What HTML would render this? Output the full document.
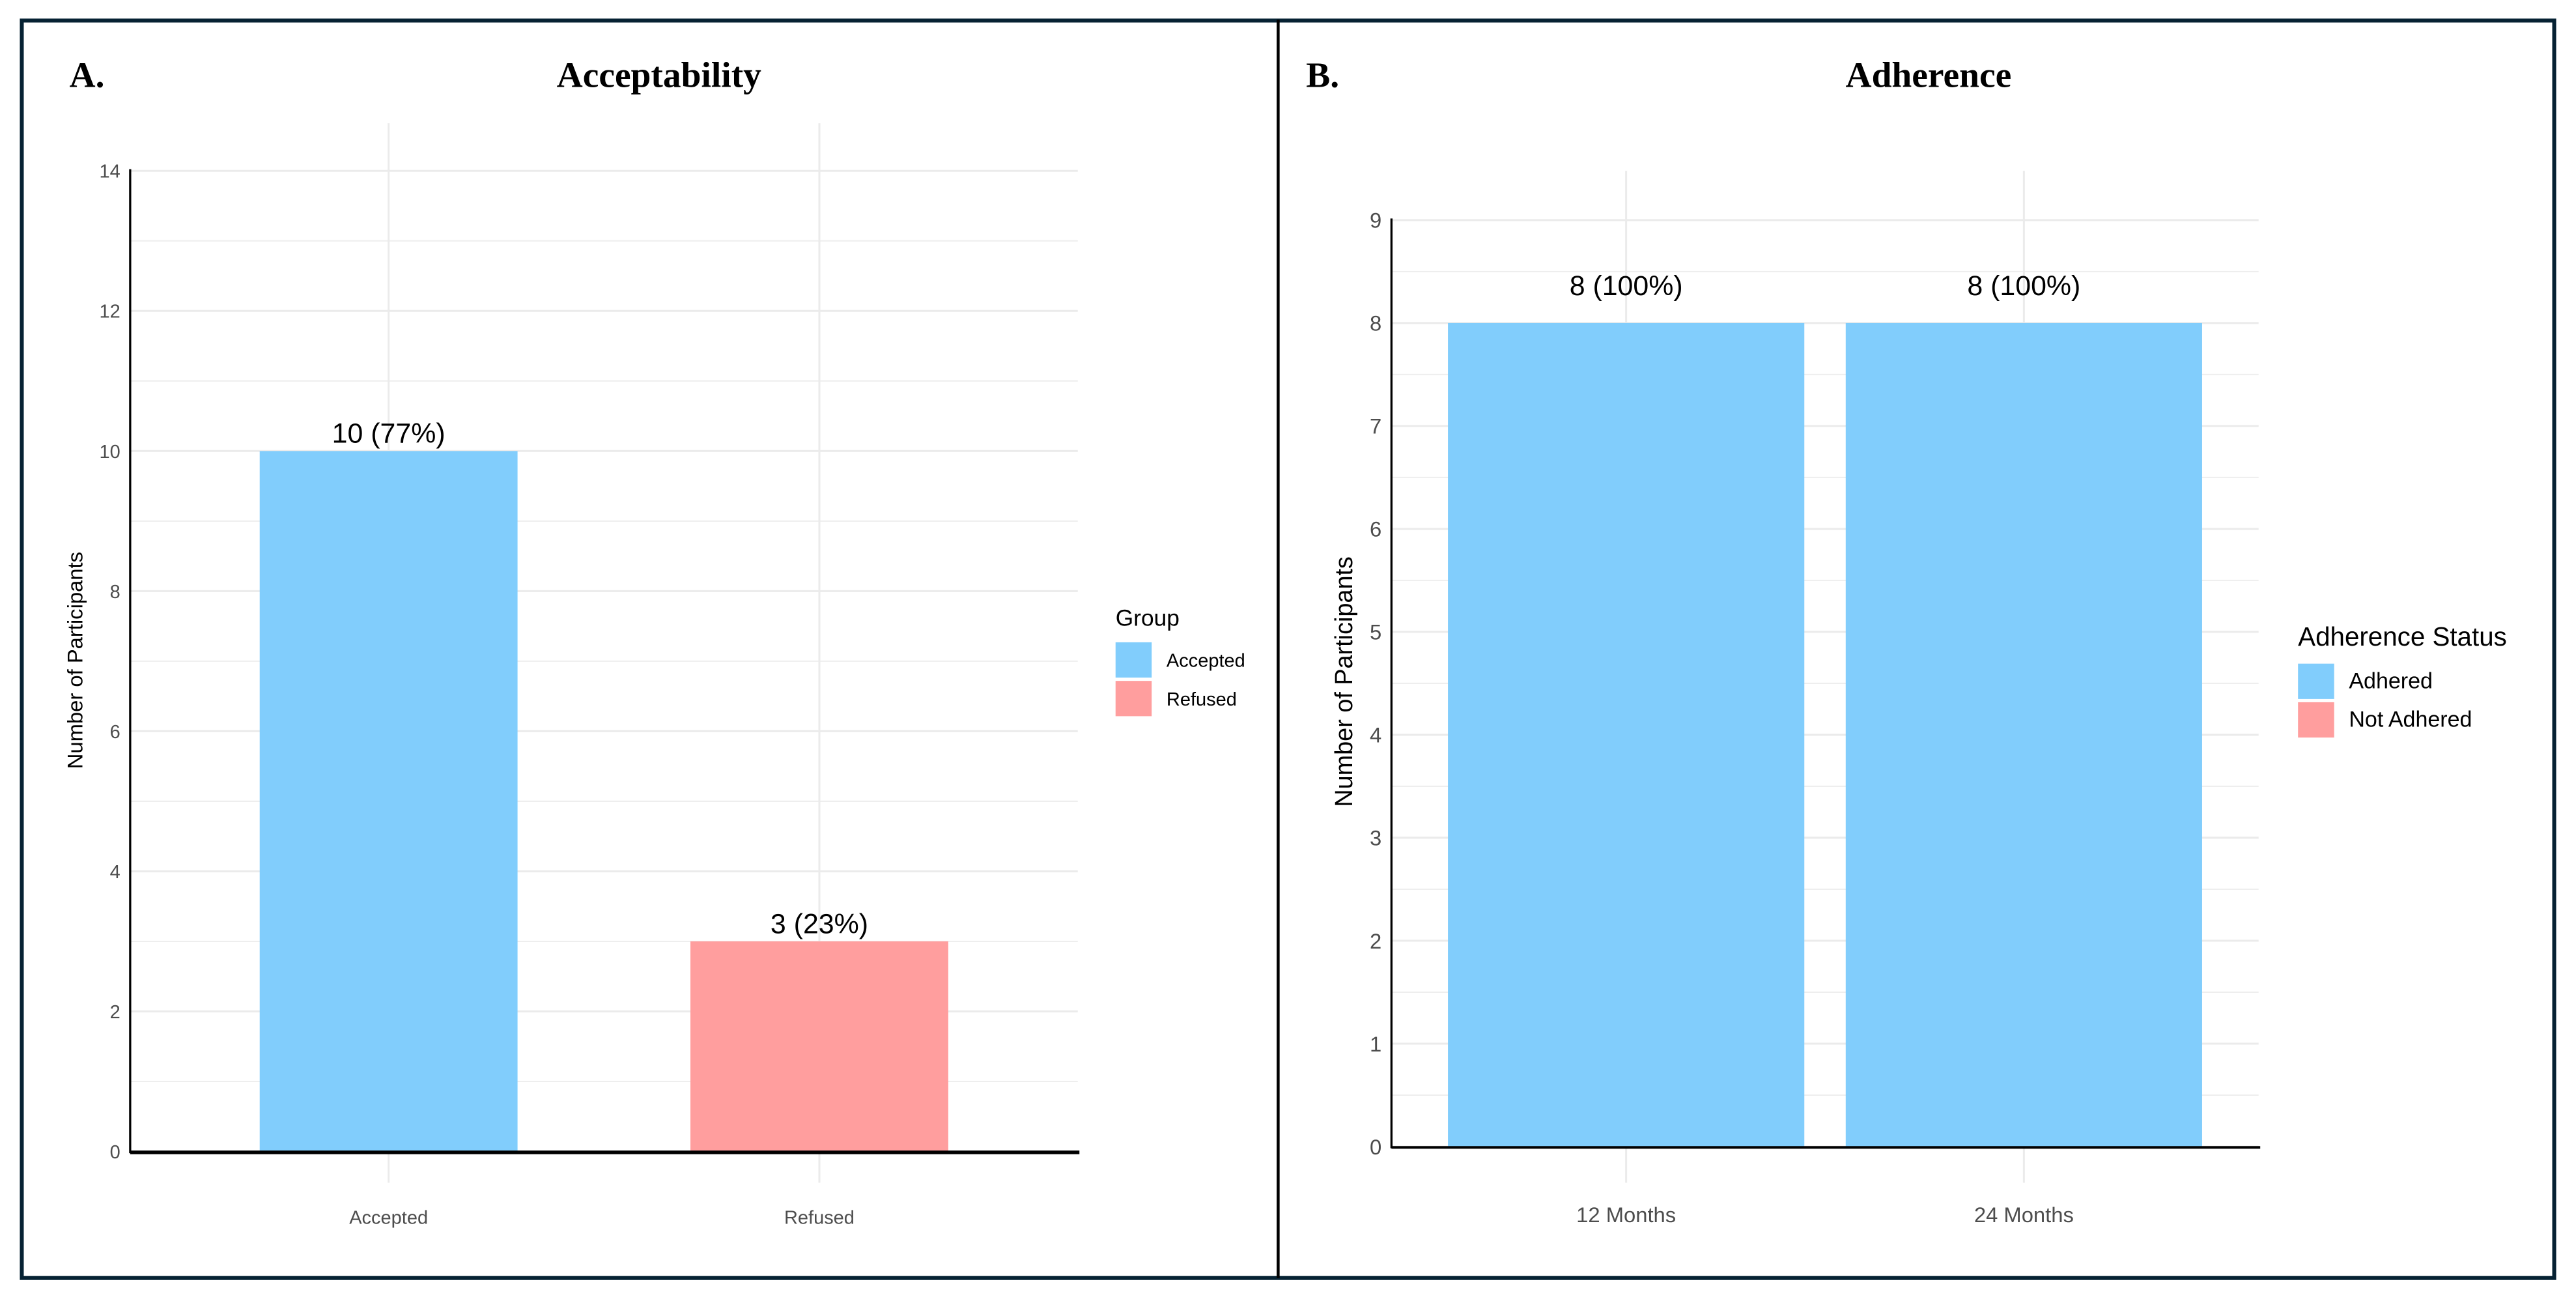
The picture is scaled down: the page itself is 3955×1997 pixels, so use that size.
<!DOCTYPE html>
<html><head><meta charset="utf-8"><style>
html,body{margin:0;padding:0;background:#fff;width:3955px;height:1997px;overflow:hidden}
svg{display:block}
text{font-family:"Liberation Sans",sans-serif}
.serif{font-family:"Liberation Serif",serif;font-weight:bold}
</style></head><body>
<svg id="fig" width="3955" height="1997" viewBox="0 0 1568 792" xmlns="http://www.w3.org/2000/svg">
<rect x="13" y="12.5" width="1542" height="765.5" fill="#fff" stroke="#062233" stroke-width="2.4"/>
<line x1="778" y1="12" x2="778" y2="778" stroke="#000" stroke-width="1.8"/>
<text x="42" y="53" class="serif" font-size="22">A.</text>
<text x="401" y="53" class="serif" font-size="22" text-anchor="middle">Acceptability</text>
<text x="795" y="53" class="serif" font-size="22">B.</text>
<text x="1174" y="53" class="serif" font-size="22" text-anchor="middle">Adherence</text>
<g id="chartA"></g>
<g id="chartB"></g>
</svg>
<script>
const catsA = ["Accepted","Refused"];
const valsA = [10,3];
const groupA = [0,1];
const labelsA = ["10 (77%)","3 (23%)"];
const ticksA = [0,2,4,6,8,10,12,14];
const legendA = ["Accepted","Refused"];
const catsB = ["12 Months","24 Months"];
const valsB = [8,8];
const groupB = [0,0];
const labelsB = ["8 (100%)","8 (100%)"];
const ticksB = [0,1,2,3,4,5,6,7,8,9];
const legendB = ["Adhered","Not Adhered"];
const colors = ["#81CDFC","#FF9E9E"];
const NS="http://www.w3.org/2000/svg";
function mk(parent,tag,attrs,txt){const e=document.createElementNS(NS,tag);for(const k in attrs)e.setAttribute(k,attrs[k]);if(txt!==undefined)e.textContent=txt;parent.appendChild(e);return e;}

function drawChart(g,cfg){
  const y=v=>cfg.y0-v*(cfg.y0-cfg.yTop)/cfg.max;
  const n=cfg.cats.length;
  const xc=i=>cfg.x0+(cfg.x1-cfg.x0)*(cfg.exp+i)/(n-1+2*cfg.exp);
  for(let i=0;i<cfg.ticks.length-1;i++){
    const v=(cfg.ticks[i]+cfg.ticks[i+1])/2;
    const l=mk(g,'line',{x1:cfg.x0,x2:cfg.x1,y1:y(v),y2:y(v),stroke:'#eeeeee','stroke-width':0.8});
    
    
  }
  cfg.ticks.forEach(t=>{
    const l=mk(g,'line',{x1:cfg.x0,x2:cfg.x1,y1:y(t),y2:y(t),stroke:'#ebebeb','stroke-width':1.2});
    
    
    const tx=mk(g,'text',{x:cfg.x0-6,y:y(t)+cfg.tfs*0.36,'text-anchor':'end','font-size':cfg.tfs,fill:'#4d4d4d'},String(t));
    
    
  });
  cfg.cats.forEach((c,i)=>{
    const l=mk(g,'line',{x1:xc(i),x2:xc(i),y1:cfg.vTop,y2:cfg.vBot,stroke:'#ebebeb','stroke-width':1.2});
    
    
  });
  cfg.cats.forEach((c,i)=>{
    const r=mk(g,'rect',{x:xc(i)-cfg.bar/2,y:y(cfg.vals[i]),width:cfg.bar,height:y(0)-y(cfg.vals[i]),fill:cfg.colors[cfg.groups[i]]});
    
    
    const t=mk(g,'text',{x:xc(i),y:y(cfg.vals[i])-cfg.lblOff,'text-anchor':'middle','font-size':17,fill:'#000'},cfg.labels[i]);
    
    
    const xl=mk(g,'text',{x:xc(i),y:cfg.xlY,'text-anchor':'middle','font-size':cfg.tfs,fill:'#4d4d4d'},c);
    
    
  });
  const ya=mk(g,'line',{x1:cfg.x0,x2:cfg.x0,y1:cfg.yTop-1,y2:y(0)+1,stroke:'#000','stroke-width':1.3});
  
  
  const xa=mk(g,'line',{x1:cfg.x0,x2:cfg.x1+1,y1:y(0)+0.5,y2:y(0)+0.5,stroke:'#000','stroke-width':cfg.xaw});
  
  
  const at=mk(g,'text',{x:0,y:0,'text-anchor':'middle','font-size':cfg.afs,fill:'#000',transform:`translate(${cfg.atX},${cfg.atY}) rotate(-90)`},'Number of Participants');
  
  
  const lt=mk(g,'text',{x:cfg.lx,y:cfg.ly,'font-size':cfg.lfs,fill:'#000'},cfg.legTitle);
  
  
  cfg.legend.forEach((nm,i)=>{
    const ky=cfg.ly+cfg.kOff+i*23.5;
    const k=mk(g,'rect',{x:cfg.lx,y:ky,width:22,height:21.5,fill:cfg.colors[i]});
    
    
    const t=mk(g,'text',{x:cfg.lx+31,y:ky+15,'font-size':cfg.lefs,fill:'#000'},nm);
    
    
  });
}
drawChart(document.getElementById('chartA'),{cats:catsA,vals:valsA,groups:groupA,labels:labelsA,ticks:ticksA,max:14,exp:0.6,
  x0:79,x1:656,y0:701,yTop:104,bar:157,vTop:75,vBot:720,xlY:745,tfs:11.5,afs:13,lblOff:5,xaw:2.2,
  atX:50,atY:402,lx:679,ly:381,lfs:14,lefs:11.5,kOff:10,legTitle:'Group',legend:legendA,colors:colors});
drawChart(document.getElementById('chartB'),{cats:catsB,vals:valsB,groups:groupB,labels:labelsB,ticks:ticksB,max:9,exp:0.59,
  x0:847,x1:1375,y0:698,yTop:134,bar:217,vTop:104,vBot:720,xlY:744,tfs:13,afs:15,lblOff:17,xaw:1.6,
  atX:823,atY:415,lx:1399,ly:393,lfs:16,lefs:13.5,kOff:11,legTitle:'Adherence Status',legend:legendB,colors:colors});
</script>
</body></html>
